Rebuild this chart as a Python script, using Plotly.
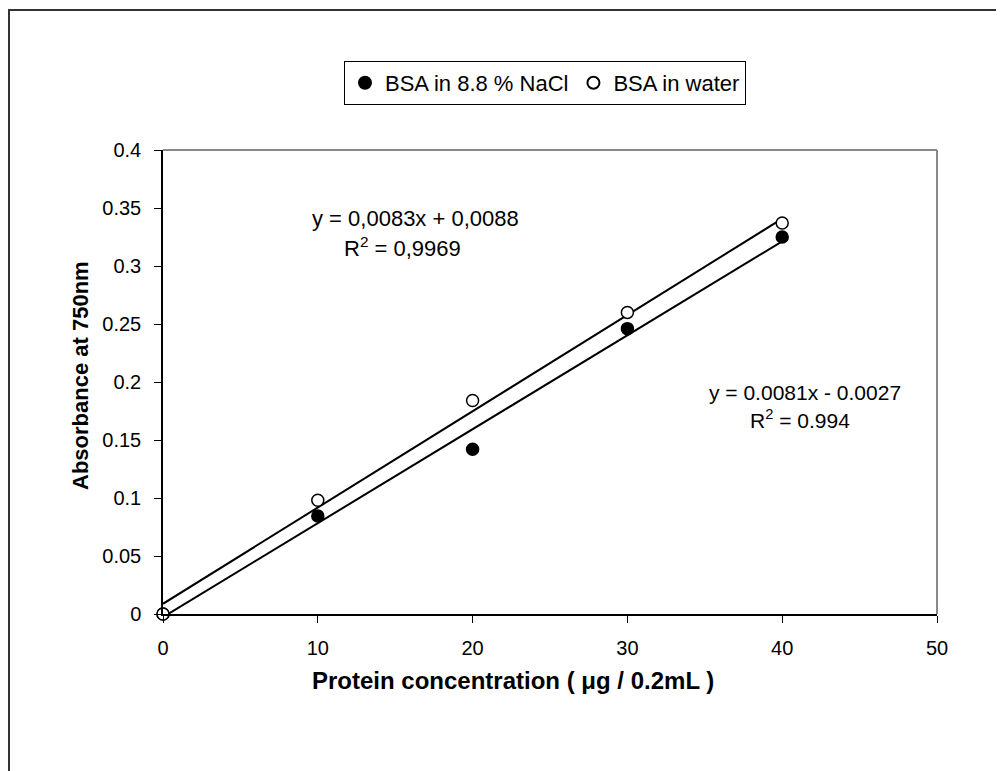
import plotly.graph_objects as go
import numpy as np

x_conc = [0, 10, 20, 30, 40]
abs_nacl = [0.0, 0.0845, 0.142, 0.246, 0.325]
abs_water = [0.0, 0.098, 0.184, 0.260, 0.337]

fit_water = (0.0083, 0.0088)   # slope, intercept
fit_nacl = (0.0081, -0.0027)

x_ticks = [0, 10, 20, 30, 40, 50]
y_ticks = [0, 0.05, 0.1, 0.15, 0.2, 0.25, 0.3, 0.35, 0.4]
y_tick_text = ["0", "0.05", "0.1", "0.15", "0.2", "0.25", "0.3", "0.35", "0.4"]

FONT = "Liberation Sans, Arial, sans-serif"

W, H = 1004, 771
OFF = 8  # page body margin
L, R, T, B = 163 - OFF, 937 - OFF, 150 - OFF, 614 - OFF

def px(xp):
    return (xp - OFF - L) / (R - L)

def py(yp):
    return (B - (yp - OFF)) / (B - T)

fig = go.Figure()

xl = np.array([min(x_conc), max(x_conc)])
fig.add_trace(go.Scatter(x=xl, y=fit_water[0] * xl + fit_water[1], mode="lines",
                         line=dict(color="black", width=2), showlegend=False, hoverinfo="skip"))
fig.add_trace(go.Scatter(x=xl, y=fit_nacl[0] * xl + fit_nacl[1], mode="lines",
                         line=dict(color="black", width=2), showlegend=False, hoverinfo="skip"))

fig.add_trace(go.Scatter(x=x_conc, y=abs_nacl, mode="markers", name="BSA in 8.8 % NaCl",
                         marker=dict(symbol="circle", size=12, color="black",
                                     line=dict(color="black", width=1.5)), cliponaxis=False))
fig.add_trace(go.Scatter(x=x_conc, y=abs_water, mode="markers", name="BSA in water",
                         marker=dict(symbol="circle", size=12, color="white",
                                     line=dict(color="black", width=1.5)), cliponaxis=False))

fig.update_layout(
    width=W, height=H,
    margin=dict(l=L, r=W - R, t=T, b=H - B, autoexpand=False),
    paper_bgcolor="white", plot_bgcolor="white",
    font=dict(family=FONT, size=19, color="black"),
    showlegend=True,
    legend=dict(orientation="h", x=px(545), y=py(61), xanchor="center", yanchor="top",
                bordercolor="black", borderwidth=1, bgcolor="white",
                font=dict(size=22), itemsizing="constant", itemwidth=30,
                tracegroupgap=0),
    xaxis=dict(range=[0, 50], tickvals=x_ticks, ticks="outside", ticklen=7, tickcolor="black",
               showline=True, linecolor="black", linewidth=1.5, showgrid=False, zeroline=False,
               tickfont=dict(size=20), ticklabelstandoff=8),
    yaxis=dict(range=[0, 0.4], tickvals=y_ticks, ticktext=y_tick_text, ticks="outside", ticklen=7,
               tickcolor="black", showline=True, linecolor="black", linewidth=1.5, showgrid=False,
               zeroline=False, tickfont=dict(size=20), ticklabelstandoff=9),
)

# gray top/right plot border
fig.add_shape(type="line", xref="paper", yref="paper", x0=0, x1=1, y0=1, y1=1,
              line=dict(color="#888888", width=2))
fig.add_shape(type="line", xref="paper", yref="paper", x0=1, x1=1, y0=0, y1=1,
              line=dict(color="#888888", width=2))
# outer chart frame
fig.add_shape(type="rect", xref="paper", yref="paper",
              x0=px(9), x1=px(1030), y0=py(800), y1=py(10),
              line=dict(color="#333333", width=2), layer="below")

def note(xp, yp, text, size, angle=0):
    fig.add_annotation(x=px(xp), y=py(yp), xref="paper", yref="paper", showarrow=False,
                       xanchor="center", yanchor="middle", text=text, textangle=angle,
                       font=dict(family=FONT, size=size, color="black"))

# axis titles
note(513, 680, "<b>Protein concentration ( μg / 0.2mL )</b>", 24)
note(80, 376, "<b>Absorbance at 750nm</b>", 22, angle=-90)

# trendline equations
note(415, 218, "y = 0,0083x + 0,0088", 22)
note(402, 247, "R<sup>2</sup> = 0,9969", 22)
note(805, 392, "y = 0.0081x - 0.0027", 21)
note(800, 419, "R<sup>2</sup> = 0.994", 21)

fig.write_html("out.html")
